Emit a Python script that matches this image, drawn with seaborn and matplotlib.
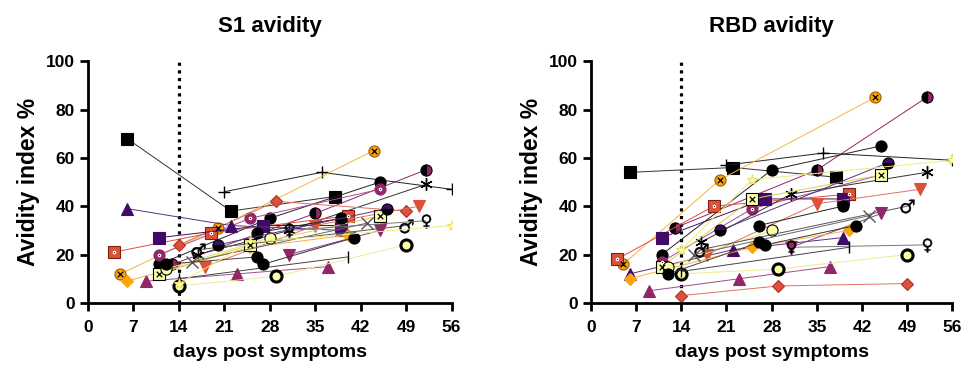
"""
Avidity index per subject over time (S1 and RBD), spaghetti plot
"""
import numpy as np
import pandas as pd
import matplotlib
matplotlib.use("Agg")
import matplotlib.pyplot as plt
import seaborn as sns

# Colours (inferno-like palette used in the source)
BLACK = '#000000'
DPURPLE = '#420a68'
MAGENTA = '#932667'
RED = '#dd513a'
ORANGE = '#fca50a'
LYELLOW = '#fcffa4'

# ---- data: one entry per subject ----
SUBJECTS = ['A', 'B', 'C', 'D', 'E', 'F', 'G', 'H', 'I', 'J', 'K', 'L', 'M', 'N',
            'O', 'P', 'Q', 'R', 'S', 'T', 'U', 'V', 'W', 'X', 'Y', 'Z', 'YA']

DAYS = [[6, 22, 38], [21, 36, 56], [5, 20, 44], [13, 35, 52], [11, 28, 45],
        [11, 25, 45], [17, 31, 52], [14, 29, 49], [4, 19, 40], [11, 27, 39],
        [6, 22, 39], [9, 23, 37], [18, 35, 51], [31, 45], [6, 25, 40],
        [11, 25, 45], [12, 28], [14, 29, 49], [17, 49], [31, 52],
        [16, 43], [14, 40], [26, 39], [27, 41], [12, 26], [20, 46], [14, 25, 56]]

S1 = [[68, 38, 44], [46, 54, 47], [12, 31, 63], [16, 37, 55], [16, 35, 50],
      [20, 35, 47], [20, 30, 49], [24, 42, 38], [21, 29, 36], [27, 32, 32],
      [39, 32, 30], [9, 12, 15], [15, 32, 40], [20, 30], [9, 23, 28],
      [12, 24, 36], [14, 27], [7, 11, 24], [22, 32], [30, 34],
      [17, 33], [10, 19], [29, 35], [16, 27], [16, 19], [24, 39], [8, 25, 32]]

RBD = [[54, 56, 52], [57, 62, 59], [16, 51, 85], [31, 55, 85], [20, 55, 65],
       [17, 39, 53], [25, 45, 54], [3, 7, 8], [18, 40, 45], [27, 43, 43],
       [12, 22, 27], [5, 10, 15], [20, 41, 47], [23, 37], [10, 23, 30],
       [15, 43, 53], [15, 30], [12, 14, 20], [22, 40], [23, 24],
       [20, 36], [13, 23], [32, 40], [24, 32], [12, 25], [30, 58], [22, 51, 59]]

# ---- styles per subject ----
MARKERS = ['s', '+', 'o', 'o', 'o', 'o', (6, 2, 0), 'D', 's', 's',
           '^', '^', 'v', 'v', 'D', 's', 'o', 'o', '$\u2642$', '$\u2640$',
           'x', '|', 'o', 'o', 'o', 'o', '*']
FACES = [BLACK, BLACK, ORANGE, MAGENTA, BLACK, MAGENTA, BLACK, RED, RED, DPURPLE,
         DPURPLE, MAGENTA, RED, MAGENTA, ORANGE, LYELLOW, LYELLOW, LYELLOW, BLACK, BLACK,
         '#555555', BLACK, BLACK, BLACK, BLACK, DPURPLE, LYELLOW]
EDGES = [BLACK, BLACK, '#a05a00', BLACK, BLACK, MAGENTA, BLACK, '#b03020', '#802010', DPURPLE,
         DPURPLE, MAGENTA, RED, MAGENTA, ORANGE, BLACK, BLACK, BLACK, BLACK, BLACK,
         '#555555', BLACK, BLACK, BLACK, BLACK, BLACK, '#e8e070']
LINES = ['#333333', '#222222', '#f5b440', MAGENTA, '#222222', '#a0508f', '#333333', '#e07060', RED, DPURPLE,
         '#5a3080', '#a04a90', '#e07060', '#8a3a8a', '#f5b440', '#d8d060', '#e8e070', '#eeea90', '#555555', '#777777',
         '#666666', '#444444', '#222222', '#333333', '#444444', '#5a3080', '#f0ec80']
FILLS = ['full'] * 27
FILLS[3] = 'right'
FILLS[25] = 'top'
INNER = {2: 'x', 5: '.', 8: '.', 15: 'x'}


def draw_panel(ax, values, title):
    for i, name in enumerate(SUBJECTS):
        df = pd.DataFrame({'day': DAYS[i], 'value': values[i]})
        ew = 2.2 if i == 17 else 0.8
        ms = 8
        if MARKERS[i] == 'D':
            ms = 6.5
        if MARKERS[i] in ('+', 'x', '|', (6, 2, 0)):
            ew, ms = 1.0, 9
        if isinstance(MARKERS[i], str) and MARKERS[i].startswith('$'):
            ew, ms = 0.3, 10
        sns.lineplot(data=df, x='day', y='value', ax=ax, color=LINES[i], linewidth=0.7,
                     marker=MARKERS[i], markersize=ms, markerfacecolor=FACES[i],
                     markeredgecolor=EDGES[i], markeredgewidth=ew, fillstyle=FILLS[i],
                     markerfacecoloralt=BLACK, errorbar=None, zorder=3)
        if i in INNER:
            sns.scatterplot(data=df, x='day', y='value', ax=ax, marker=INNER[i],
                            color=BLACK, s=16 if INNER[i] == 'x' else 12,
                            linewidth=0.9, zorder=4, legend=False)

    ax.axvline(14, color=BLACK, linestyle=(0, (1, 1.4)), linewidth=2.3, zorder=2)
    ax.set_xlim(0, 56)
    ax.set_ylim(0, 100)
    ax.set_xticks(np.arange(0, 57, 7))
    ax.set_yticks(np.arange(0, 101, 20))
    ax.set_title(title, fontsize=16, fontweight='bold', pad=21)
    ax.set_xlabel('days post symptoms', fontsize=14, fontweight='bold', labelpad=7)
    ax.set_ylabel('Avidity index %', fontsize=16.5, fontweight='bold', labelpad=4)
    for s in ('left', 'bottom'):
        ax.spines[s].set_linewidth(2)
        ax.spines[s].set_color(BLACK)
    ax.tick_params(axis='both', length=6, width=2, labelsize=12.5, direction='out',
                   colors=BLACK)
    ax.tick_params(axis='x', pad=6)
    for lab in ax.get_xticklabels() + ax.get_yticklabels():
        lab.set_fontweight('bold')
    sns.despine(ax=ax)


sns.set_style('ticks')
plt.rcParams['font.family'] = ['Liberation Sans', 'DejaVu Sans']
plt.rcParams['text.color'] = BLACK
plt.rcParams['axes.labelcolor'] = BLACK

fig = plt.figure(figsize=(9.67, 3.73), dpi=100)
ax1 = fig.add_axes([0.091, 0.188, 0.376, 0.648])
ax2 = fig.add_axes([0.611, 0.188, 0.374, 0.648])

draw_panel(ax1, S1, 'S1 avidity')
draw_panel(ax2, RBD, 'RBD avidity')

fig.savefig('out.png', dpi=100)
